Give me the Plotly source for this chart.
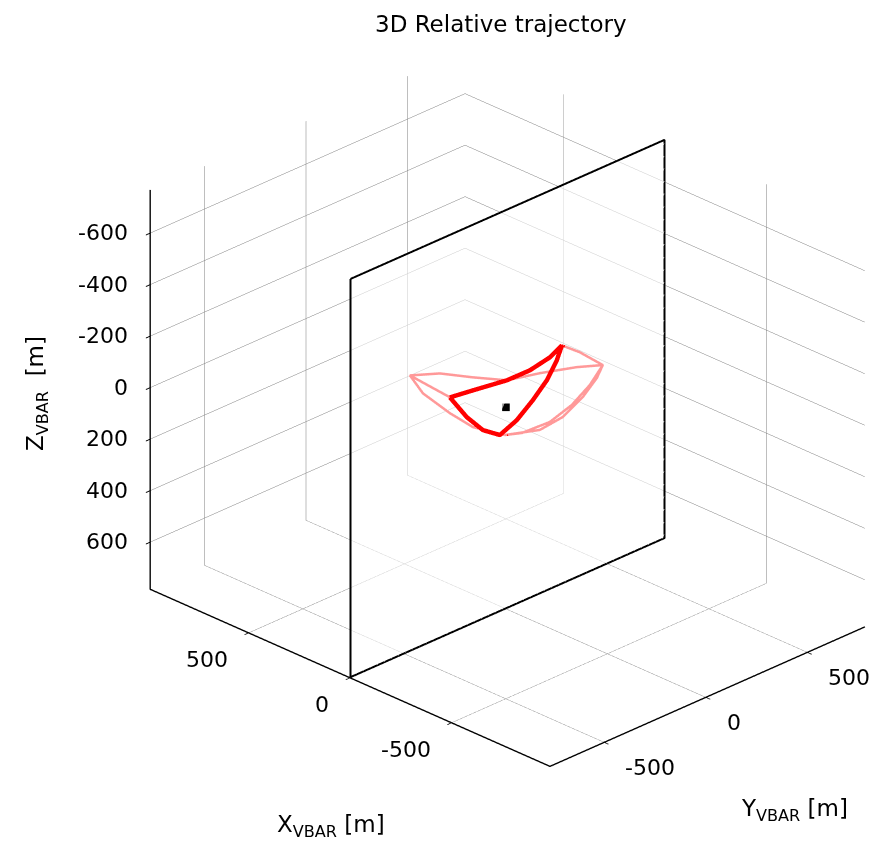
import plotly.graph_objects as go

# ---------------- data (metres, VBAR frame) ----------------
# front loop (in front of the X=0 plane, as seen)
front_x = [-80, -50, -10, -30, -50, -60, -55, -45, -35, -20, -10, -30, -55, -80]
front_y = [-355.5, -212.3, -5.1, 88.1, 166.4, 215.5, 195.9, 156.7, 97.8, 34.1, -39.5, -143.1, -246.8, -355.5]
front_z = [-190.0, -156.8, -109.5, -122.7, -152.6, -185.4, -132.5, -65.5, -5.2, 55.1, 90.9, 28.6, -66.3, -190.0]

# right lobe, behind the plane (two passes)
right1_x = [10, 50, 90, 120, 110, 90, 60, 35, 10]
right1_y = [14.9, 217.2, 439.2, 597.1, 557.6, 468.8, 340.4, 202.2, 5.1]
right1_z = [-95.6, -38.6, 29.4, 87.0, 120.1, 155.7, 177.8, 171.2, 113.4]

right2_x = [0, 60, 120, 100, 75, 50, 25, 10]
right2_y = [275.5, 424.0, 597.1, 513.2, 399.7, 266.4, 103.7, 5.1]
right2_z = [-143.7, -44.0, 87.0, 128.2, 157.2, 168.0, 145.2, 113.4]

# left lobe, behind the plane (two passes)
left1_x = [10, 40, 80, 120, 110, 80, 45, 10]
left1_y = [14.9, -122.3, -244.7, -352.2, -298.3, -195.5, -117.3, 5.1]
left1_z = [-95.6, -144.5, -188.5, -204.3, -119.4, -17.0, 52.1, 113.4]

left2_x = [120, 90, 50]
left2_y = [-352.2, -283.8, -225.5]
left2_z = [-204.3, -148.3, -99.7]

# target position
target_x = [0]
target_y = [0]
target_z = [0]

# axes
x_range = [-985, 985]
y_range = [-767, 783]
z_range = [-767, 783]
xy_ticks = [-500, 0, 500]
z_ticks = [-600, -400, -200, 0, 200, 400, 600]

# X = 0 plane extent
plane_y_lim = [-765, 781]
plane_z_lim = [-765, 781]
plane_y = [plane_y_lim[0], plane_y_lim[1], plane_y_lim[1], plane_y_lim[0]]
plane_z = [plane_z_lim[0], plane_z_lim[0], plane_z_lim[1], plane_z_lim[1]]

FONT = "DejaVu Sans, Liberation Sans, Arial, sans-serif"

fig = go.Figure()

traj = [(front_x, front_y, front_z, 9),
        (right1_x, right1_y, right1_z, 5),
        (right2_x, right2_y, right2_z, 5),
        (left1_x, left1_y, left1_z, 5),
        (left2_x, left2_y, left2_z, 5)]
for xs, ys, zs, w in traj:
    fig.add_trace(go.Scatter3d(x=xs, y=ys, z=zs, mode="lines",
                               line=dict(color="rgb(255,0,0)", width=w),
                               showlegend=False, hoverinfo="skip"))

fig.add_trace(go.Scatter3d(x=target_x, y=target_y, z=target_z, mode="markers",
                           marker=dict(color="black", size=4, symbol="square"),
                           showlegend=False, hoverinfo="skip"))

# semi-transparent plane at X = 0
fig.add_trace(go.Mesh3d(x=[0, 0, 0, 0], y=plane_y, z=plane_z,
                        i=[0, 0], j=[1, 2], k=[2, 3],
                        color="white", opacity=0.6, flatshading=True,
                        lighting=dict(ambient=1, diffuse=0, specular=0, roughness=1, fresnel=0),
                        showscale=False, hoverinfo="skip"))
fig.add_trace(go.Scatter3d(x=[0, 0, 0, 0, 0], y=plane_y + [plane_y[0]], z=plane_z + [plane_z[0]],
                           mode="lines", line=dict(color="black", width=4),
                           showlegend=False, hoverinfo="skip"))


def ax(rng, ticks, reverse):
    return dict(range=[rng[1], rng[0]] if reverse else rng,
                tickvals=ticks, showticklabels=False,
                title=dict(text=""), showgrid=True, gridcolor="rgb(125,125,125)", gridwidth=1,
                showline=True, linecolor="black", linewidth=3,
                ticks="outside", tickcolor="black", ticklen=6, tickwidth=2,
                showbackground=False, zeroline=False, showspikes=False)


tick_font = dict(family=FONT, size=22, color="black")
scene_anns = []
for t in z_ticks:
    scene_anns.append(dict(x=x_range[1], y=y_range[0], z=t, text=str(t), showarrow=False,
                           xanchor="right", yanchor="middle", xshift=-20, yshift=0, font=tick_font))
for t in xy_ticks:
    scene_anns.append(dict(x=t, y=y_range[0], z=z_range[1], text=str(t), showarrow=False,
                           xanchor="right", yanchor="middle", xshift=-19, yshift=-27, font=tick_font))
for t in xy_ticks:
    scene_anns.append(dict(x=x_range[0], y=t, z=z_range[1], text=str(t), showarrow=False,
                           xanchor="left", yanchor="middle", xshift=19, yshift=-26, font=tick_font))

fig.update_layout(
    width=873, height=847,
    margin=dict(l=0, r=0, t=0, b=0),
    paper_bgcolor="white",
    scene=dict(
        domain=dict(x=[0.163, 1.0], y=[0.036, 1.0]),
        xaxis=ax(x_range, xy_ticks, True),
        yaxis=ax(y_range, xy_ticks, False),
        zaxis=ax(z_range, z_ticks, True),
        aspectmode="manual",
        aspectratio=dict(x=1.384, y=1.09, z=1.09),
        camera=dict(projection=dict(type="orthographic"),
                    eye=dict(x=1.268, y=-1.268, z=0.886),
                    up=dict(x=0, y=0, z=1),
                    center=dict(x=0, y=0, z=0)),
        bgcolor="white",
        annotations=scene_anns,
    ),
)

W, H = 873, 847
anns = [
    dict(text="3D Relative trajectory", px=501, py=24, angle=0, size=23),
    dict(text="Z<sub>VBAR</sub>  [m]", px=37, py=394, angle=-90, size=23),
    dict(text="X<sub>VBAR</sub> [m]", px=331, py=826, angle=0, size=23),
    dict(text="Y<sub>VBAR</sub> [m]", px=794, py=810, angle=0, size=23),
]
for a in anns:
    fig.add_annotation(text=a["text"], x=a["px"] / W, y=1 - a["py"] / H,
                       xref="paper", yref="paper", showarrow=False,
                       textangle=a["angle"], xanchor="center", yanchor="middle",
                       font=dict(family=FONT, size=a["size"], color="black"))

fig.write_html("out.html", config={"displayModeBar": False})
